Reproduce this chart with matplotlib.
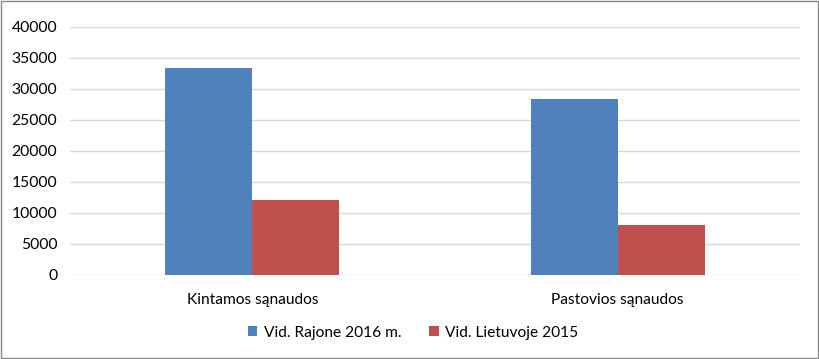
import numpy as np
from matplotlib import pyplot as plt
from matplotlib.patches import Rectangle

# Duomenys
kategorijos = ["Kintamos sąnaudos", "Pastovios sąnaudos"]
rajone_2016 = [33400, 28400]
lietuvoje_2015 = [12100, 8100]
serijos = ["Vid. Rajone 2016 m.", "Vid. Lietuvoje 2015"]

plt.rcParams['font.family'] = ['Lato', 'DejaVu Sans']

fig = plt.figure(figsize=(8.2, 3.59), dpi=100)
ax = fig.add_axes([0.085, 0.234, 0.891, 0.691])

x = np.arange(len(kategorijos))
plotis = 0.238
ax.bar(x - plotis / 2, rajone_2016, plotis, color="#4f81bd", label=serijos[0], zorder=3)
ax.bar(x + plotis / 2, lietuvoje_2015, plotis, color="#c0504d", label=serijos[1], zorder=3)

ax.set_xlim(-0.5, 1.5)
ax.set_ylim(0, 40000)
ax.set_yticks(range(0, 40001, 5000))
ax.set_xticks(x)
ax.set_xticklabels(kategorijos)
ax.grid(axis="y", color="#d9d9d9", linewidth=1, zorder=0)
for s in ax.spines.values():
    s.set_visible(False)
ax.tick_params(length=0, colors="#000000")
ax.tick_params(axis="x", pad=13, labelsize=11.2)
ax.tick_params(axis="y", pad=9, labelsize=11.3)

ax.legend(loc="center", bbox_to_anchor=(0.47, -0.232), ncol=2, frameon=False,
          fontsize=11.2, handlelength=0.6, handleheight=0.6, columnspacing=1.8,
          handletextpad=0.4)

# rėmelis aplink paveikslą
fig.patches.append(Rectangle((0.001, 0.002), 0.997, 0.995, transform=fig.transFigure,
                             fill=False, edgecolor="#888888", linewidth=1))

fig.savefig("out.png", dpi=100)
